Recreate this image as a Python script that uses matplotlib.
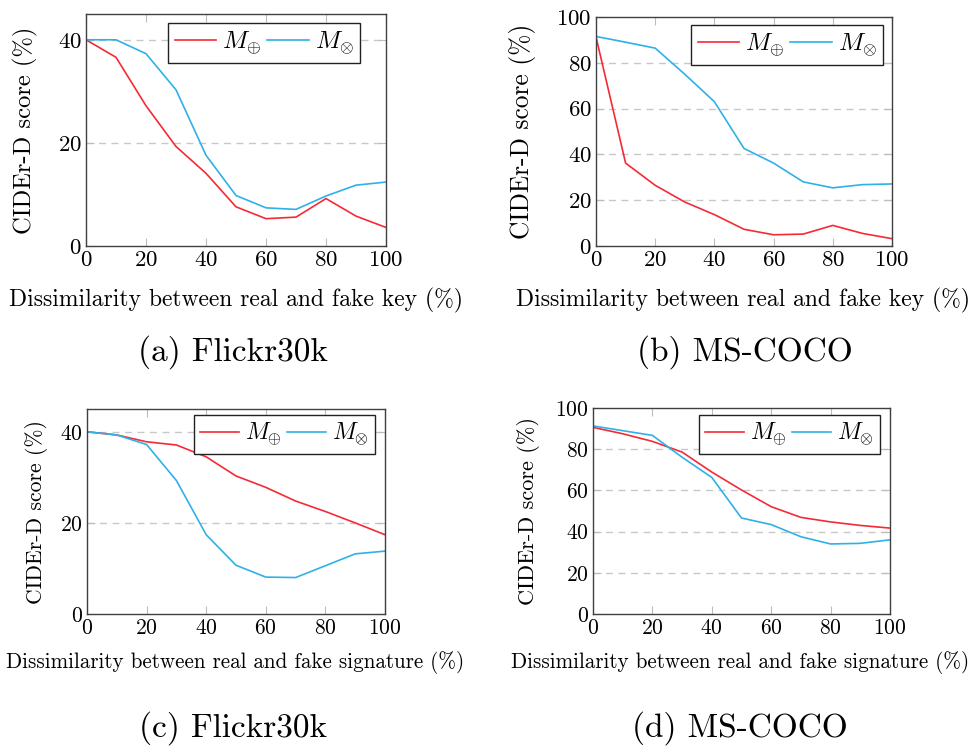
import matplotlib
matplotlib.use("Agg")
import matplotlib.pyplot as plt

plt.rcParams["font.family"] = ["cmr10", "DejaVu Serif"]
plt.rcParams["mathtext.fontset"] = "cm"
plt.rcParams["axes.formatter.use_mathtext"] = True

# dissimilarity levels (%)
x = [0, 10, 20, 30, 40, 50, 60, 70, 80, 90, 100]

# CIDEr-D vs. fake key
flickr_key_add = [40.0, 36.6, 27.2, 19.3, 14.1, 7.6, 5.3, 5.6, 9.2, 5.8, 3.6]
flickr_key_mul = [40.0, 40.0, 37.3, 30.3, 17.6, 9.8, 7.4, 7.1, 9.7, 11.8, 12.4]
coco_key_add = [91.3, 36.2, 26.5, 19.2, 13.7, 7.3, 4.9, 5.2, 9.0, 5.5, 3.2]
coco_key_mul = [91.5, 89.0, 86.4, 75.0, 63.0, 42.6, 36.2, 28.0, 25.4, 26.8, 27.1]

# CIDEr-D vs. fake signature
flickr_sig_add = [40.0, 39.3, 37.8, 37.1, 34.5, 30.3, 27.8, 24.8, 22.5, 20.0, 17.4]
flickr_sig_mul = [40.0, 39.3, 37.2, 29.3, 17.4, 10.7, 8.1, 8.0, 10.6, 13.2, 13.8]
coco_sig_add = [90.6, 87.5, 83.8, 78.6, 68.9, 60.2, 52.1, 46.9, 44.7, 43.0, 41.7]
coco_sig_mul = [91.3, 89.0, 86.7, 76.1, 66.3, 46.6, 43.4, 37.5, 34.0, 34.3, 36.0]

labels = [r"$M_{\oplus}$", r"$M_{\otimes}$"]
captions = ["(a) Flickr30k", "(b) MS-COCO", "(c) Flickr30k", "(d) MS-COCO"]
xlabels = ["Dissimilarity between real and fake key (%)"] * 2 + \
          ["Dissimilarity between real and fake signature (%)"] * 2

RED = "#f52a35"
BLUE = "#2fb0e8"
W, H = 969, 748

# panel boxes in pixels: left, right, top, bottom
boxes = [(86, 386, 14, 246), (596, 892, 17, 246),
         (87, 385, 409, 614), (593, 890, 408, 614)]
series = [(flickr_key_add, flickr_key_mul, 45, [0, 20, 40]),
          (coco_key_add, coco_key_mul, 100, [0, 20, 40, 60, 80, 100]),
          (flickr_sig_add, flickr_sig_mul, 45, [0, 20, 40]),
          (coco_sig_add, coco_sig_mul, 100, [0, 20, 40, 60, 80, 100])]
caption_pos = [(233, 352), (745, 352), (233, 728), (740, 728)]
xlabel_pos = [(236, 300), (743, 300), (235, 662), (740, 662)]
ylabel_x = [25, 523, 37, 528]
legend_anchor = [(0.913, 0.961), (0.970, 0.965), (0.966, 0.971), (0.966, 0.966)]
xlabel_size = [17, 17, 15.2, 15.2]
ylabel_size = [17.7, 18.3, 15.6, 16]
tick_size = [16.5, 16.5, 15.5, 15.5]
legend_size = [18, 18, 17, 17]

fig = plt.figure(figsize=(W / 100, H / 100), dpi=100)

for i in range(4):
    l, r, t, b = boxes[i]
    ax = fig.add_axes([l / W, 1 - b / H, (r - l) / W, (b - t) / H])
    add, mul, ymax, yt = series[i]
    ax.plot(x, add, color=RED, lw=1.2, label=labels[0])
    ax.plot(x, mul, color=BLUE, lw=1.2, label=labels[1])
    ax.set_xlim(0, 100)
    ax.set_ylim(0, ymax)
    ax.set_xticks([0, 20, 40, 60, 80, 100])
    ax.set_yticks(yt)
    for yv in yt[1:]:
        if yv < ymax:
            ax.axhline(yv, color="#c8c8c8", lw=1.0, ls=(0, (5, 4)), zorder=0)
    ax.tick_params(direction="in", top=True, right=True, length=6,
                   color="#bdbdbd", labelsize=tick_size[i], pad=3)
    for s in ax.spines.values():
        s.set_color("#404040")
        s.set_linewidth(1.0)
    leg = ax.legend(loc="upper right", bbox_to_anchor=legend_anchor[i],
                    ncol=2, fontsize=legend_size[i], handlelength=1.65,
                    handletextpad=0.25, columnspacing=0.25, borderpad=0.25,
                    fancybox=False, framealpha=1, borderaxespad=0)
    leg.get_frame().set_edgecolor("#222222")
    leg.get_frame().set_linewidth(1.0)

    # axis titles and sub-captions
    fig.text(xlabel_pos[i][0] / W, 1 - xlabel_pos[i][1] / H, xlabels[i],
             fontsize=xlabel_size[i], ha="center", va="center")
    fig.text(ylabel_x[i] / W, 1 - (t + b) / 2 / H, "CIDEr-D score (%)",
             fontsize=ylabel_size[i], rotation=90, ha="center", va="center")
    fig.text(caption_pos[i][0] / W, 1 - caption_pos[i][1] / H, captions[i],
             fontsize=24, ha="center", va="center")

fig.savefig("out.png", dpi=100)
